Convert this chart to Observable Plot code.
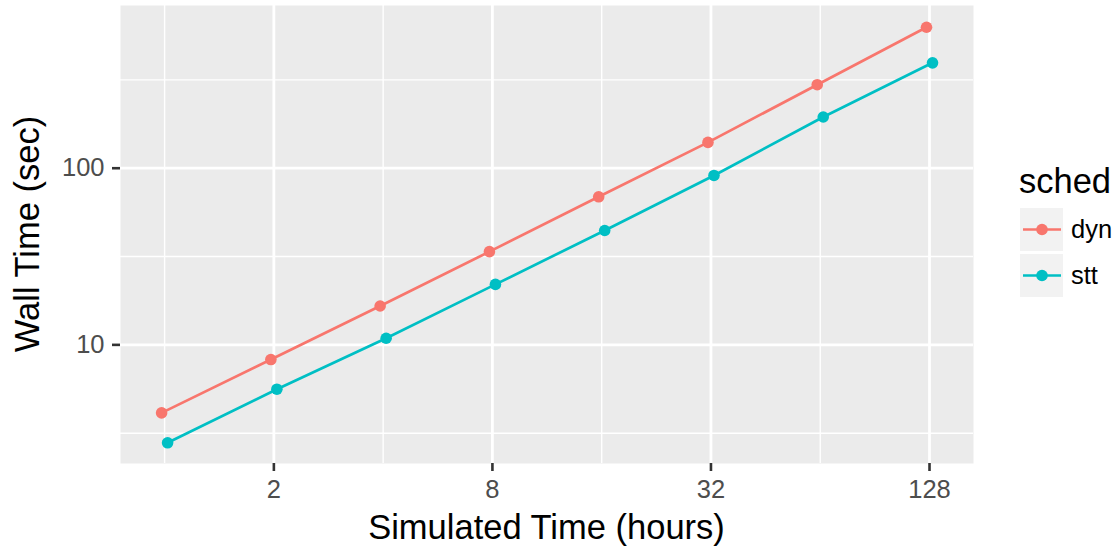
<!DOCTYPE html>
<html>
<head>
<meta charset="utf-8">
<script src="https://cdn.jsdelivr.net/npm/d3@7"></script>
<script src="https://cdn.jsdelivr.net/npm/@observablehq/plot@0.6"></script>
<style>
  html, body { margin: 0; padding: 0; background: #ffffff; }
  #wrap { position: relative; width: 1118px; height: 550px; font-family: "Liberation Sans", Arial, sans-serif; }
  #legend { position: absolute; left: 0; top: 0; pointer-events: none; }
</style>
</head>
<body>
<div id="wrap"></div>
<script>
// ---- data ----
const hours = [1, 2, 4, 8, 16, 32, 64, 128];
const dynWall = [4.12, 8.26, 16.6, 33.7, 68.9, 140, 297, 628];
const sttWall = [2.79, 5.61, 10.9, 22.0, 44.4, 91.0, 195, 395];
const scheds = ["dyn", "stt"];
const schedColors = ["#F8766D", "#00BFC4"];
const xMajorTicks = [2, 8, 32, 128];
const xMinorTicks = [1, 4, 16, 64];
const yMajorTicks = [10, 100];
const yMinorTicks = [3.162, 31.62, 316.2];
const xTitle = "Simulated Time (hours)";
const yTitle = "Wall Time (sec)";
const legendTitle = "sched";

const seriesValues = [dynWall, sttWall];
const rows = scheds.flatMap((s, k) => hours.map((h, i) => ({ sched: s, hours: h, wall: seriesValues[k][i] })));
const dodge = { dyn: -3, stt: 3 };

const font = "'Liberation Sans', Arial, sans-serif";

const seriesMarks = scheds.flatMap(s => {
  const d = rows.filter(r => r.sched === s);
  return [
    Plot.line(d, { x: "hours", y: "wall", stroke: "sched", strokeWidth: 2.7, dx: dodge[s] }),
    Plot.dot(d, { x: "hours", y: "wall", fill: "sched", r: 5.8, stroke: null, dx: dodge[s] })
  ];
});

const chart = Plot.plot({
  width: 1118,
  height: 550,
  marginLeft: 120,
  marginRight: 145,
  marginTop: 5,
  marginBottom: 87,
  style: { fontFamily: font, background: "white", overflow: "visible" },
  x: { type: "log", base: 2, domain: [0.756, 169.2] },
  y: { type: "log", domain: [2.13, 834] },
  color: { domain: scheds, range: schedColors },
  marks: [
    Plot.frame({ fill: "#EBEBEB", stroke: null }),
    Plot.ruleX(xMinorTicks, { stroke: "white", strokeWidth: 1.4 }),
    Plot.ruleY(yMinorTicks, { stroke: "white", strokeWidth: 1.4 }),
    Plot.ruleX(xMajorTicks, { stroke: "white", strokeWidth: 2.8 }),
    Plot.ruleY(yMajorTicks, { stroke: "white", strokeWidth: 2.8 }),
    Plot.axisX({ ticks: xMajorTicks, tickSize: 8, tickPadding: 8, stroke: "#333333", strokeWidth: 2.6,
                 fill: "#4D4D4D", fontSize: 25.5, label: null, tickFormat: d => String(d) }),
    Plot.axisY({ ticks: yMajorTicks, tickSize: 8, tickPadding: 8, stroke: "#333333", strokeWidth: 2.6,
                 fill: "#4D4D4D", fontSize: 25.5, label: null, tickFormat: d => String(d) }),
    ...seriesMarks
  ]
});

const wrap = document.getElementById("wrap");
wrap.appendChild(chart);

// ---- titles and legend (ggplot style) ----
const ov = d3.select(wrap).append("svg")
  .attr("id", "legend")
  .attr("width", 1118).attr("height", 550)
  .style("font-family", font);

ov.append("text").attr("x", 546.5).attr("y", 539).attr("text-anchor", "middle")
  .attr("font-size", 34.5).attr("fill", "black").text(xTitle);
ov.append("text").attr("transform", "translate(39,234) rotate(-90)").attr("text-anchor", "middle")
  .attr("font-size", 34.5).attr("fill", "black").text(yTitle);

ov.append("text").attr("x", 1019).attr("y", 193).attr("font-size", 34.5).attr("fill", "black").text(legendTitle);

scheds.forEach((s, i) => {
  const top = 208 + i * 46;
  const cy = top + 21.5;
  ov.append("rect").attr("x", 1020).attr("y", top).attr("width", 43).attr("height", 43).attr("fill", "#F2F2F2");
  ov.append("line").attr("x1", 1023).attr("x2", 1061).attr("y1", cy).attr("y2", cy)
    .attr("stroke", schedColors[i]).attr("stroke-width", 2.7);
  ov.append("circle").attr("cx", 1042).attr("cy", cy).attr("r", 5.8).attr("fill", schedColors[i]);
  ov.append("text").attr("x", 1071).attr("y", cy + 8.5).attr("font-size", 25.5).attr("fill", "black").text(s);
});
</script>
</body>
</html>
